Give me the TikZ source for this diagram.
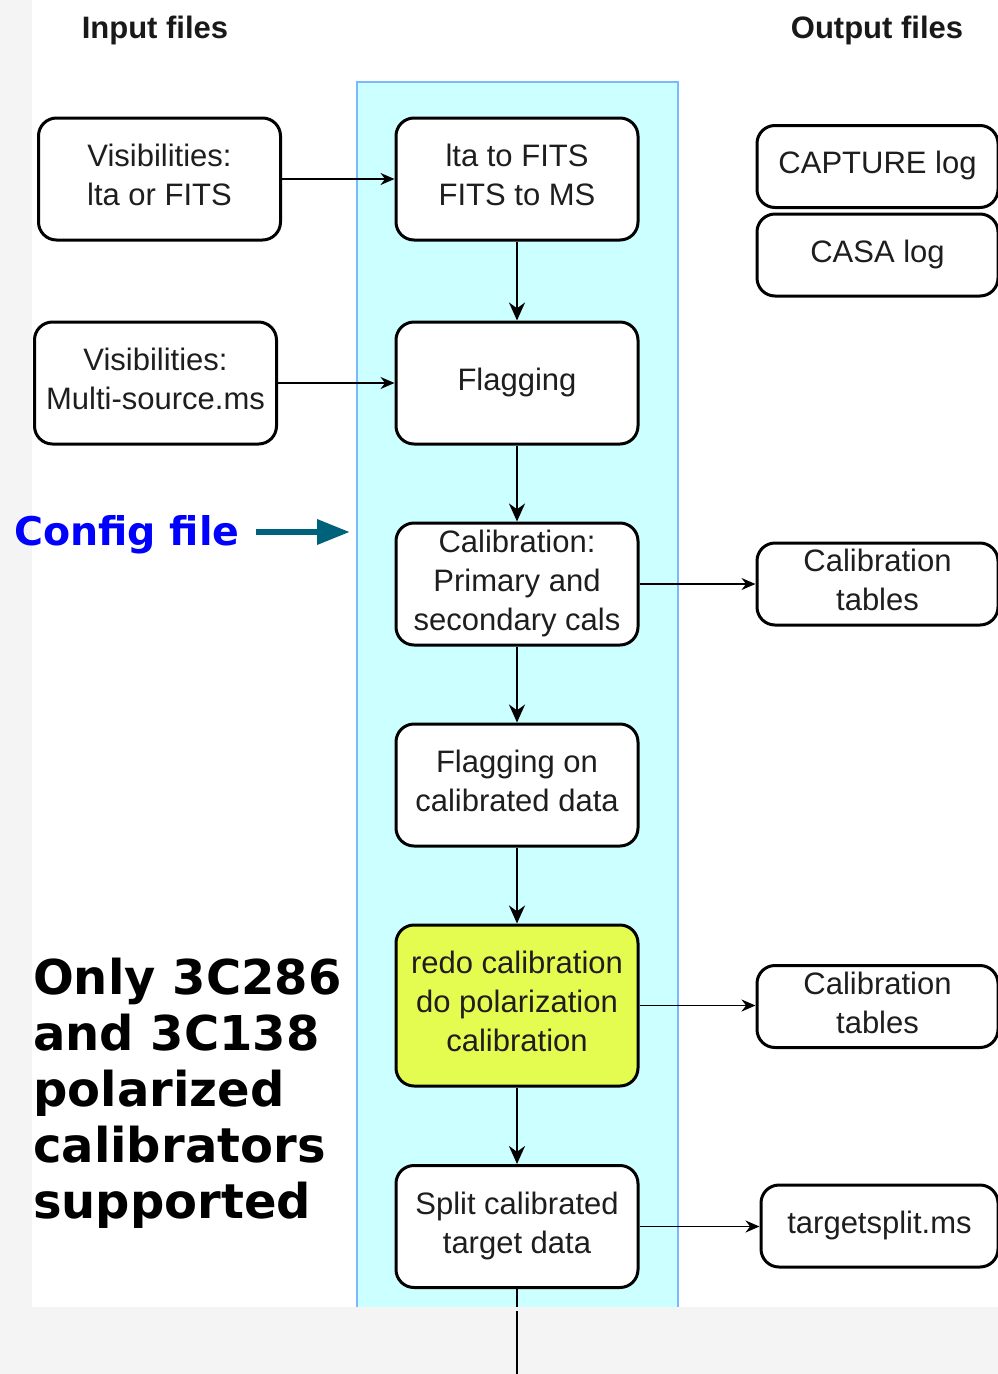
\documentclass[tikz,border=0pt]{standalone}
\usepackage{fontspec}
\setmainfont{Liberation Sans}
\newfontfamily\djv{DejaVu Sans}
\usetikzlibrary{arrows.meta}
\definecolor{pagegrey}{RGB}{244,244,244}
\definecolor{lanefill}{RGB}{204,255,255}
\definecolor{laneedge}{RGB}{122,184,255}
\definecolor{polfill}{RGB}{228,251,80}
\definecolor{cfgblue}{RGB}{0,0,255}
\definecolor{cfgteal}{RGB}{0,98,122}
\definecolor{ink}{RGB}{30,30,30}

\begin{document}
\begin{tikzpicture}[x=1pt,y=-1pt,
  boxtext/.style={font=\fontsize{31}{39}\selectfont, text=ink, align=center,
    execute at end node={\rule[-8pt]{0pt}{0pt}}},
  procbox/.style={boxtext, draw=black, line width=3pt, rounded corners=18pt,
    fill=white, minimum width=242pt, minimum height=122pt, inner sep=0pt},
  outbox/.style={procbox, minimum width=241pt, minimum height=82pt},
  hdr/.style={font=\fontsize{31}{36}\bfseries\selectfont, text=black!90, anchor=base},
  arr/.style={line width=1.8pt, -{Stealth[length=14pt,width=12pt]}},
  varr/.style={line width=2.8pt, -{Stealth[length=18pt,width=16pt]}},
  flowline/.style={line width=2.8pt},
  cfgarr/.style={line width=6.5pt, cfgteal, -{Triangle[length=33pt,width=24pt]}},
]
\useasboundingbox (0,0) rectangle (998,1374);
\fill[pagegrey] (0,0) rectangle (998,1374);
\fill[white] (32,0) rectangle (998,1307);

% pipeline lane: filled band, open at the bottom
\node[fill=lanefill, minimum width=321pt, minimum height=1225pt, inner sep=0pt]
  (lane) at (517.5,694.5) {};
\draw[laneedge, line width=1.5pt]
  (lane.south west) -- (lane.north west) -- (lane.north east) -- (lane.south east);

% column headers
\node[hdr] (inhdr) at (155,38) {Input files};
\node[hdr] (outhdr) at (877,38) {Output files};

% inputs
\node[procbox] (visA) at (159.5,179) {Visibilities:\\lta or FITS};
\node[procbox] (visB) at (155.5,383) {Visibilities:\\Multi-source.ms};

% processing steps
\node[procbox] (conv) at (517,179) {lta to FITS\\FITS to MS};
\node[procbox] (flag) at (517,383) {Flagging};
\node[procbox] (calib) at (517,584) {Calibration:\\Primary and\\secondary cals};
\node[procbox] (reflag) at (517,785) {Flagging on\\calibrated data};
\node[procbox, fill=polfill, minimum height=161pt] (polcal) at (517,1005.5)
  {redo calibration\\do polarization\\calibration};
\node[procbox] (split) at (517,1226.5) {Split calibrated\\target data};

% outputs
\node[outbox] (caplog) at (877.5,166.5) {CAPTURE log};
\node[outbox] (casalog) at (877.5,255) {CASA log};
\node[outbox] (caltabA) at (877.5,584) {Calibration\\tables};
\node[outbox] (caltabB) at (877.5,1006.5) {Calibration\\tables};
\node[outbox, minimum width=237pt] (tsplit) at (879.5,1226) {targetsplit.ms};

% connectors
\draw[arr] (visA) -- (conv);
\draw[arr] (visB) -- (flag);
\draw[arr] (calib) -- (caltabA);
\draw[arr] (polcal.east) -- (polcal.east -| caltabB.west);
\draw[arr] (split.east) -- (split.east -| tsplit.west);

\draw[varr] (conv) -- (flag);
\draw[varr] (flag) -- (calib);
\draw[varr] (calib) -- (reflag);
\draw[varr] (reflag) -- (polcal);
\draw[varr] (polcal) -- (split);

\coordinate (laneend) at (split.south |- lane.south);
\coordinate (exitA) at ([yshift=-4pt]laneend);
\coordinate (exitB) at (split.south |- 0,1374);
\draw[flowline] (split) -- (laneend);
\draw[flowline] (exitA) -- (exitB);

% configuration input
\node[font=\djv\bfseries\fontsize{39.5}{44}\selectfont, text=cfgblue,
  anchor=base west, inner sep=0pt] (cfg) at (14,545) {Config file};
\coordinate (cfgtip) at (350,532);
\draw[cfgarr] ([xshift=16pt]cfg.east |- cfgtip) -- (cfgtip);

% note on supported calibrators
\node[font=\djv\bfseries\fontsize{48}{56}\selectfont, anchor=north west,
  align=left, inner sep=0pt] (note) at (33,958)
  {Only 3C286\\and 3C138\\polarized\\calibrators\\supported};
\end{tikzpicture}
\end{document}
